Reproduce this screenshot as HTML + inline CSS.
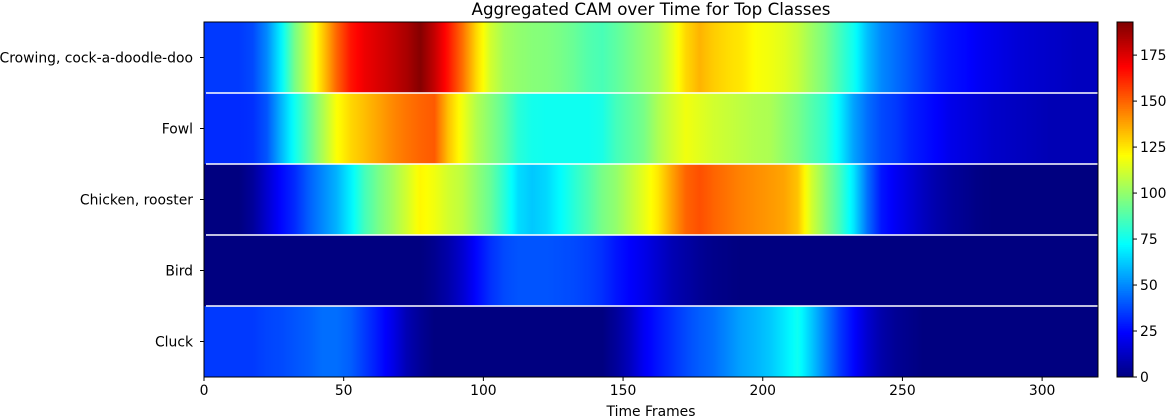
<!DOCTYPE html>
<html><head><meta charset="utf-8">
<style>
html,body{margin:0;padding:0;background:#fff;}
svg{display:block;font-family:"DejaVu Sans","Liberation Sans",sans-serif;}
</style></head>
<body>
<svg id="chart" width="1170" height="420" viewBox="0 0 1170 420" xmlns="http://www.w3.org/2000/svg">
<defs id="grads"></defs>
<text x="651" y="15" font-size="16.7" text-anchor="middle">Aggregated CAM over Time for Top Classes</text>
<g id="cells"></g>
<g id="seps"></g>
<rect x="204" y="22" width="894" height="355" fill="none" stroke="#000" stroke-width="1"/>
<g id="xaxis"></g>
<g id="yaxis"></g>
<text x="651" y="416" font-size="13.9" text-anchor="middle">Time Frames</text>
<g id="cbar"></g>
</svg>
<script>
const categories = ["Crowing, cock-a-doodle-doo","Fowl","Chicken, rooster","Bird","Cluck"];
const frameStep = 5;
const rowCrowing = [35,35,35,38,50,70,95,112,130,150,165,172,176,180,185,192,180,165,148,128,112,103,100,98,97,95,92,88,86,90,95,100,105,115,128,135,130,127,125,120,118,115,110,102,95,85,75,60,50,45,40,35,30,27,25,22,20,18,16,15,14,13,12,12];
const rowFowl = [32,32,32,33,40,58,75,90,105,120,128,133,138,143,147,150,152,132,118,106,98,90,80,76,75,75,75,75,77,85,90,95,105,112,118,115,112,110,108,106,105,100,95,88,82,70,55,45,38,35,30,27,24,20,18,16,14,13,12,11,10,10,10,10];
const rowChicken = [0,0,0,5,15,25,32,42,50,58,70,85,95,103,112,122,118,112,108,100,92,80,66,62,65,72,80,87,95,100,108,116,125,138,150,154,150,147,144,142,140,138,132,112,98,85,68,45,28,22,17,12,8,5,3,1,0,0,0,0,0,0,0,0];
const rowBird = [0,0,0,0,0,0,0,0,0,0,0,0,0,0,0,0,3,8,15,25,33,38,40,40,40,39,38,36,33,28,24,20,15,10,7,4,2,1,0,0,0,0,0,0,0,0,0,0,0,0,0,0,0,0,0,0,0,0,0,0,0,0,0,0];
const rowCluck = [35,35,35,35,37,38,40,42,45,45,42,35,28,20,10,4,0,0,0,0,0,0,0,0,0,0,0,0,0,5,12,22,28,33,38,42,45,50,55,58,62,68,75,62,48,35,25,15,8,4,2,0,0,0,0,0,0,0,0,0,0,0,0,0];
const seriesRows = [rowCrowing,rowFowl,rowChicken,rowBird,rowCluck];
const xTicks = [0,50,100,150,200,250,300];
const cbarTicks = [0,25,50,75,100,125,150,175];
const vmin = 0, vmax = 193, xMax = 320;

const NS="http://www.w3.org/2000/svg";
const PX0=204,PX1=1098,PY0=22,PY1=377;
const xScale=f=>PX0+(f/xMax)*(PX1-PX0);
const rowH=(PY1-PY0)/categories.length;
const yScale=i=>PY0+i*rowH;
function jet(v){
  let t=Math.max(0,Math.min(1,(v-vmin)/(vmax-vmin)));
  const c=x=>Math.round(255*Math.max(0,Math.min(1,x)));
  const r=Math.min(4*t-1.5,-4*t+4.5), g=Math.min(4*t-0.5,-4*t+3.5), b=Math.min(4*t+0.5,-4*t+2.5);
  return `rgb(${c(r)},${c(g)},${c(b)})`;
}
function mk(tag,attrs,parent){const e=document.createElementNS(NS,tag);for(const k in attrs)e.setAttribute(k,attrs[k]);parent.appendChild(e);return e;}
const grads=document.getElementById('grads');
const cells=document.getElementById('cells');
seriesRows.forEach((row,ri)=>{
  const g=mk('linearGradient',{id:'g'+ri,gradientUnits:'userSpaceOnUse',x1:PX0,x2:PX1,y1:0,y2:0},grads);
  row.forEach((v,ci)=>{
    const f=(ci+0.5)*frameStep/xMax;
    const nv=ci+1<row.length?row[ci+1]:v;
    for(let s=0;s<4;s++){
      const fr=f+s*frameStep/xMax/4;
      if(fr>1)break;
      mk('stop',{offset:fr,'stop-color':jet(v+(nv-v)*s/4)},g);
    }
  });
  const r=mk('rect',{x:PX0,y:yScale(ri),width:PX1-PX0,height:rowH,fill:'url(#g'+ri+')'},cells);
  
  
});
const seps=document.getElementById('seps');
for(let i=1;i<categories.length;i++){
  const l=mk('line',{x1:PX0+2,x2:PX1,y1:yScale(i),y2:yScale(i),stroke:'#fff','stroke-width':1.5},seps);
  
  
}
const xa=document.getElementById('xaxis');
xTicks.forEach(t=>{
  const x=xScale(t);
  const tk=mk('line',{x1:x,x2:x,y1:PY1,y2:PY1+4,stroke:'#000'},xa);
  
  
  const tx=mk('text',{x:x,y:PY1+18,'font-size':13.9,'text-anchor':'middle'},xa);
  tx.textContent=t;
  
  
});
const ya=document.getElementById('yaxis');
categories.forEach((c,i)=>{
  const y=yScale(i)+rowH/2;
  const tk=mk('line',{x1:PX0-4,x2:PX0,y1:y,y2:y,stroke:'#000'},ya);
  
  
  const tx=mk('text',{x:PX0-11,y:y+5,'font-size':13.9,'text-anchor':'end'},ya);
  tx.textContent=c;
  
  
});
const cb=document.getElementById('cbar');
const CX=1117,CW=16;
const cScale=v=>PY1-(v-vmin)/(vmax-vmin)*(PY1-PY0);
for(let v=vmin;v<vmax;v+=1){
  const r=mk('rect',{x:CX,y:cScale(v+1),width:CW,height:cScale(v)-cScale(v+1)+0.5,fill:jet(v+0.5)},cb);
  
  
}
const cf=mk('rect',{x:CX,y:PY0,width:CW,height:PY1-PY0,fill:'none',stroke:'#000'},cb);


cbarTicks.forEach(t=>{
  const y=cScale(t);
  const tk=mk('line',{x1:CX+CW,x2:CX+CW+4,y1:y,y2:y,stroke:'#000'},cb);
  
  
  const tx=mk('text',{x:CX+CW+7,y:y+5,'font-size':13.9},cb);
  tx.textContent=t;
  
  
});
</script>
</body></html>
